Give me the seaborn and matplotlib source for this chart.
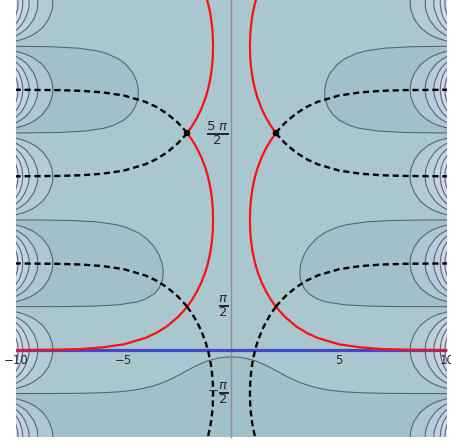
import numpy as np
import pandas as pd
import seaborn as sns
import matplotlib.pyplot as plt

PI = np.pi

# =========================
# VALUES
# (right half, x >= 0; the left half is its mirror image)
# =========================

# red level curve: from the real axis on the right, up through the crossing at pi/2, then up the middle
red_x = [10.3, 10.0, 8.0, 7.0, 6.0, 5.0, 4.0, 3.5, 3.0, 2.5, 2.2, 2.06,
         1.95, 1.8, 1.6, 1.4, 1.2, 1.095, 1.0, 0.95, 0.9, 0.87, 0.855,
         0.87, 0.9, 0.95, 1.0, 1.095, 1.2, 1.4, 1.6, 1.8, 1.95, 2.06,
         1.95, 1.8, 1.6, 1.4, 1.2, 1.095, 1.0, 0.95, 0.9, 0.87, 0.855,
         0.87, 0.9, 0.95, 1.0, 1.095, 1.2]
red_y = [0.0, 0.003, 0.02, 0.04, 0.10, 0.21, 0.44, 0.62, 0.86, 1.19, 1.44, 1.571,
         1.689, 1.861, 2.126, 2.447, 2.860, 3.142, 3.471, 3.698, 4.005, 4.297, 4.712,
         5.128, 5.420, 5.727, 5.953, 6.283, 6.565, 6.978, 7.299, 7.564, 7.736, 7.854,
         7.972, 8.144, 8.409, 8.730, 9.143, 9.425, 9.755, 9.981, 10.288, 10.580, 10.996,
         11.411, 11.703, 12.010, 12.237, 12.566, 12.848]

# dashed branch from the pi/2 crossing down through the real axis to the bottom
dash_low_x = [2.06, 1.95, 1.8, 1.6, 1.4, 1.2, 1.095, 1.0, 0.95, 0.9, 0.87, 0.855,
              0.87, 0.9, 0.95, 1.0, 1.095, 1.2]
dash_low_y = [1.571, 1.453, 1.281, 1.016, 0.695, 0.282, 0.0, -0.330, -0.557, -0.864, -1.155, -1.571,
              -1.986, -2.278, -2.585, -2.812, -3.142, -3.423]

# dashed branches going out to the horizontal asymptotes pi, 2 pi, 3 pi
dash_out_x = [2.06, 2.2, 2.5, 3.0, 3.5, 4.0, 5.0, 6.0, 7.0, 8.0, 10.3]
dash_pi_y = [1.571, 1.701, 1.950, 2.278, 2.521, 2.702, 2.930, 3.044, 3.098, 3.123, 3.139]
dash_2pi_y = [7.854, 7.724, 7.475, 7.147, 6.904, 6.723, 6.495, 6.381, 6.326, 6.302, 6.286]
dash_3pi_y = [7.854, 7.984, 8.234, 8.561, 8.804, 8.985, 9.213, 9.327, 9.382, 9.406, 9.422]

saddle_x = [2.063]
saddle_y = [5 * PI / 2]

# grey zero contour of the background: the hump under the real axis
hump_x = [0.0, 0.35, 0.70, 1.15, 1.46, 1.73, 1.97, 2.21, 2.44, 2.69, 2.96, 3.28,
          3.66, 4.19, 4.57, 5.13, 5.70, 6.39, 7.05, 7.68, 8.41, 9.18, 10.3]
hump_y = [-0.243, -0.257, -0.30, -0.40, -0.50, -0.60, -0.70, -0.80, -0.90, -1.00, -1.10, -1.20,
          -1.30, -1.40, -1.45, -1.50, -1.53, -1.55, -1.56, -1.565, -1.568, -1.5695, -1.5705]

# grey zero contour: the tongues around pi and 3 pi
tongue_pi_x = [10.3, 9.18, 7.69, 6.42, 5.22, 4.41, 4.01, 3.58, 3.36, 3.20, 3.17,
               3.22, 3.36, 3.59, 3.95, 4.31, 4.89, 5.37, 6.26, 7.50, 8.78, 10.3]
tongue_pi_y = [1.5712, 1.5721, 1.5766, 1.5916, 1.6416, 1.7416, 1.8416, 2.0416, 2.2416, 2.5416, 2.8416,
               3.1416, 3.4416, 3.7416, 4.0416, 4.2416, 4.4416, 4.5416, 4.6416, 4.6916, 4.7066, 4.7111]
tongue_3pi_x = [10.8, 9.29, 8.02, 6.80, 5.93, 5.49, 4.99, 4.70, 4.45, 4.34, 4.32,
                4.40, 4.58, 4.89, 5.22, 5.77, 6.23, 7.12, 8.35, 9.63, 11.1]
tongue_3pi_y = [7.855, 7.860, 7.875, 7.925, 8.025, 8.125, 8.325, 8.525, 8.825, 9.125, 9.425,
                9.725, 10.025, 10.325, 10.525, 10.725, 10.825, 10.925, 10.975, 10.990, 10.994]

# grey edge arcs (half shape: depth x and offset above the centre line)
arc_levels = [2000, 4000, 6000, 8000, 10000]
arc_2000_x = [8.29, 8.305, 8.34, 8.49, 8.77, 9.09, 9.31, 9.61, 10.01, 10.3]
arc_2000_t = [0.0, 0.15, 0.3, 0.6, 0.9, 1.1, 1.2, 1.3, 1.39, 1.44]
arc_4000_x = [8.99, 9.00, 9.03, 9.18, 9.46, 9.60, 9.78, 10.0, 10.3]
arc_4000_t = [0.0, 0.15, 0.3, 0.6, 0.9, 1.0, 1.1, 1.2, 1.30]
arc_6000_x = [9.39, 9.40, 9.44, 9.59, 9.75, 9.87, 10.01, 10.3]
arc_6000_t = [0.0, 0.15, 0.3, 0.6, 0.8, 0.9, 1.0, 1.16]
arc_8000_x = [9.68, 9.73, 9.81, 9.87, 9.95, 10.04, 10.3]
arc_8000_t = [0.0, 0.3, 0.5, 0.6, 0.7, 0.8, 1.0]
arc_10000_x = [9.90, 9.92, 9.95, 9.99, 10.01, 10.3]
arc_10000_t = [0.0, 0.2, 0.3, 0.4, 0.45, 0.83]
arc_centers = [-PI, 0.0, PI, 2 * PI, 3 * PI, 4 * PI]
arc_signs = [-1, 1, -1, 1, -1, 1]

real_axis_y = 0.0

x_major = [-10, -5, 5, 10]
x_major_labels = ["\u221210", "\u22125", "5", "10"]
x_minor = [-9, -8, -7, -6, -4, -3, -2, -1, 1, 2, 3, 4, 6, 7, 8, 9]
y_ticks = [-PI / 2, PI / 2, 5 * PI / 2]
y_tick_labels = [r"$-\genfrac{}{}{2.0}{0}{\pi}{2}$",
                 r"$\genfrac{}{}{2.0}{0}{\pi}{2}$",
                 r"$\genfrac{}{}{2.0}{0}{5\ \pi}{2}$"]

# =========================
# STYLE
# =========================

BASE = "#aac7cf"
NEG_FILL = "#a1c0ca"
POS_BANDS = ["#b2cbd5", "#bccfdc", "#c6d4e4", "#d1daec", "#dee1f3"]
NEG_BANDS = ["#adc7d4", "#b7ccdc", "#c2d2e5", "#cdd8ec", "#dadef3"]
GREY_LINE = "#5b6569"
AXIS_GREY = "#8e8e8e"
LABEL_COLOR = "#2a2a2a"

sns.set_theme(style="white")
plt.rcParams["font.family"] = ["DejaVu Sans"]
plt.rcParams["mathtext.fontset"] = "dejavusans"


def mirror(values):
    return [-v for v in values]


def full_arc(half_x, half_t):
    xs = list(half_x[::-1]) + list(half_x[1:])
    ts = [-t for t in half_t[::-1]] + list(half_t[1:])
    return xs, ts


def add_curve(rows, xs, ys, cid):
    rows.extend({"x": a, "y": b, "curve": cid} for a, b in zip(xs, ys))


fig = plt.figure(figsize=(4.52, 4.46), dpi=100)
ax = fig.add_axes([16 / 452, 9 / 446, 431 / 452, 437 / 446])
ax.set_facecolor(BASE)

# ---- filled regions ----
full_hump_x = mirror(hump_x[::-1]) + hump_x[1:]
full_hump_y = hump_y[::-1] + hump_y[1:]
ax.fill(full_hump_x + [10.3, -10.3], full_hump_y + [-5.0, -5.0], color=NEG_FILL, lw=0, zorder=0.6)
for tx, ty in [(tongue_pi_x, tongue_pi_y), (tongue_3pi_x, tongue_3pi_y)]:
    ax.fill(tx, ty, color=NEG_FILL, lw=0, zorder=0.6)
    ax.fill(mirror(tx), ty, color=NEG_FILL, lw=0, zorder=0.6)

arc_templates = [full_arc(arc_2000_x, arc_2000_t), full_arc(arc_4000_x, arc_4000_t),
                 full_arc(arc_6000_x, arc_6000_t), full_arc(arc_8000_x, arc_8000_t),
                 full_arc(arc_10000_x, arc_10000_t)]

gray_rows = []
cid = 0
for i, (axs, ats) in enumerate(arc_templates):
    for c, sgn in zip(arc_centers, arc_signs):
        col = POS_BANDS[i] if sgn > 0 else NEG_BANDS[i]
        ys = [c + t for t in ats]
        for side in (1, -1):
            xs = [side * v for v in axs]
            ax.fill(xs, ys, color=col, lw=0, zorder=0.7 + 0.05 * i)
            add_curve(gray_rows, xs, ys, cid)
            cid += 1

add_curve(gray_rows, full_hump_x, full_hump_y, cid)
cid += 1
for tx, ty in [(tongue_pi_x, tongue_pi_y), (tongue_3pi_x, tongue_3pi_y)]:
    add_curve(gray_rows, tx, ty, cid)
    add_curve(gray_rows, mirror(tx), ty, cid + 1)
    cid += 2

gray_df = pd.DataFrame(gray_rows)
sns.lineplot(data=gray_df, x="x", y="y", units="curve", estimator=None, sort=False,
             color=GREY_LINE, linewidth=0.8, legend=False, ax=ax, zorder=2)

# ---- real axis in blue ----
ax.axhline(real_axis_y, color="#4545cc", linewidth=2.3, zorder=3)

# ---- red and dashed level curves ----
red_rows = []
add_curve(red_rows, red_x, red_y, 0)
add_curve(red_rows, mirror(red_x), red_y, 1)
sns.lineplot(data=pd.DataFrame(red_rows), x="x", y="y", units="curve", estimator=None,
             sort=False, color="#ff1010", linewidth=1.6, legend=False, ax=ax, zorder=4)

dash_rows = []
k = 0
for xs, ys in [(dash_low_x, dash_low_y), (dash_out_x, dash_pi_y),
               (dash_out_x, dash_2pi_y), (dash_out_x, dash_3pi_y)]:
    add_curve(dash_rows, xs, ys, k)
    add_curve(dash_rows, mirror(xs), ys, k + 1)
    k += 2
sns.lineplot(data=pd.DataFrame(dash_rows), x="x", y="y", units="curve", estimator=None,
             sort=False, color="black", linewidth=1.7, linestyle=(0, (2.6, 1.6)),
             legend=False, ax=ax, zorder=5)

sns.scatterplot(x=saddle_x + mirror(saddle_x), y=saddle_y * 2, color="black", s=22,
                edgecolor="none", legend=False, ax=ax, zorder=6)

# ---- axes through the origin ----
ax.set_xlim(-10, 10)
ax.set_ylim(-PI, 4 * PI + 0.1)
ax.set_xlabel("")
ax.set_ylabel("")
ax.set_axisbelow(False)
for s in ["top", "right"]:
    ax.spines[s].set_visible(False)
ax.spines["left"].set_position(("data", 0))
ax.spines["bottom"].set_position(("data", 0))
for s in ["left", "bottom"]:
    ax.spines[s].set_color(AXIS_GREY)
    ax.spines[s].set_linewidth(1.0)
    ax.spines[s].set_zorder(2.5)

ax.set_xticks(x_major)
ax.set_xticklabels(x_major_labels)
ax.set_xticks(x_minor, minor=True)
ax.set_yticks(y_ticks)
ax.set_yticklabels(y_tick_labels)
ax.tick_params(axis="both", which="both", direction="in", color=AXIS_GREY,
               labelcolor=LABEL_COLOR, width=0.8)
ax.tick_params(axis="x", labelsize=8.5, pad=3)
ax.tick_params(axis="y", labelsize=9.5, pad=2)
ax.tick_params(which="major", length=4)
ax.tick_params(which="minor", length=2.5)
for lab in ax.get_yticklabels():
    lab.set_verticalalignment("center")
# keep the pi labels (and the minus sign) above the dashed curves
ax.yaxis.set_zorder(7)

fig.savefig("out.png", dpi=100)
